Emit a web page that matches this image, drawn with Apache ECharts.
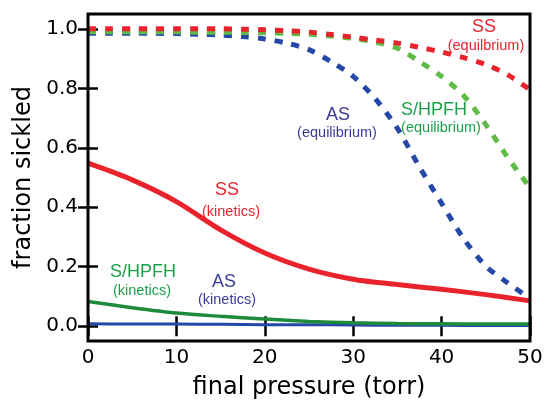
<!DOCTYPE html>
<html>
<head>
<meta charset="utf-8">
<script src="https://cdn.jsdelivr.net/npm/echarts@6/dist/echarts.min.js"></script>
<style>
  html, body { margin: 0; padding: 0; background: #fff; }
  #chart { width: 544px; height: 403px; }
</style>
</head>
<body>
<div id="chart"></div>
<script>
var myChart = echarts.init(document.getElementById('chart'));

// x values (torr)
var pressureEq = [0, 2.5, 5, 7.5, 10, 12.5, 15, 17.5, 20, 22.5, 25, 27.5, 30, 32.5, 35, 37.5, 40, 42.5, 45, 47.5, 50];
var pressureKin = [0, 5, 10, 15, 20, 25, 30, 35, 40, 45, 50];

// equilibrium curves (dashed)
var ssEq = [1.0, 1.0, 1.0, 1.0, 1.0, 1.0, 1.0, 0.999, 0.997, 0.994, 0.989, 0.981, 0.972, 0.962, 0.952, 0.938, 0.922, 0.903, 0.880, 0.845, 0.795];
var hpfhEq = [0.990, 0.990, 0.990, 0.990, 0.990, 0.989, 0.989, 0.988, 0.987, 0.985, 0.982, 0.976, 0.968, 0.955, 0.935, 0.890, 0.840, 0.775, 0.678, 0.567, 0.465];
var asEq = [0.985, 0.985, 0.985, 0.985, 0.984, 0.982, 0.979, 0.974, 0.966, 0.952, 0.930, 0.890, 0.840, 0.765, 0.665, 0.535, 0.413, 0.294, 0.202, 0.145, 0.093];

// kinetics curves (solid)
var ssKin = [0.548, 0.492, 0.419, 0.324, 0.246, 0.192, 0.158, 0.140, 0.124, 0.106, 0.085];
var hpfhKin = [0.083, 0.062, 0.044, 0.033, 0.024, 0.016, 0.011, 0.009, 0.008, 0.007, 0.007];
var asKin = [0.008, 0.007, 0.007, 0.006, 0.005, 0.005, 0.004, 0.003, 0.003, 0.002, 0.002];

var yTicks = [0, 0.2, 0.4, 0.6, 0.8, 1.0];

var RED = '#e8232b', GREEN_D = '#5dbb46', GREEN = '#1d8a3c', BLUE = '#2448a8';
var TXT_BLUE = '#3a3a9a', TXT_GREEN = '#1ea04a';

function pairs(xs, ys) {
    return xs.map(function (x, i) { return [x, ys[i]]; });
}

function line(name, xs, ys, color, width, dashed) {
    return {
        name: name,
        type: 'line',
        data: pairs(xs, ys),
        smooth: 0.3,
        symbol: 'none',
        silent: true,
        lineStyle: {
            color: color,
            width: width,
            type: dashed ? [8, 9] : 'solid',
            cap: 'butt'
        }
    };
}

// annotation text
var notes = [
    ['SS', 484, 27, RED, 18],
    ['(equilbrium)', 486, 46, RED, 14.5],
    ['AS', 338, 115, TXT_BLUE, 18],
    ['(equilibrium)', 337, 133, TXT_BLUE, 14.5],
    ['S/HPFH', 434, 110, TXT_GREEN, 18],
    ['(equilibrium)', 441, 128, TXT_GREEN, 14.5],
    ['SS', 227, 190, RED, 18],
    ['(kinetics)', 231, 212, RED, 14.5],
    ['S/HPFH', 143, 272, TXT_GREEN, 18],
    ['(kinetics)', 142, 291, TXT_GREEN, 14.5],
    ['AS', 224, 282, TXT_BLUE, 18],
    ['(kinetics)', 227, 300, TXT_BLUE, 14.5]
];

var tickStyle = { show: true, inside: true, length: 10, lineStyle: { color: '#000', width: 2.5 } };

option = {
    backgroundColor: '#fff',
    animation: false,
    grid: {
        left: 88,
        right: 14,
        top: 14,
        bottom: 62,
        outerBoundsMode: 'none',
        containLabel: false,
        show: true,
        borderColor: '#000',
        borderWidth: 3,
        z: 10
    },
    xAxis: [
        {
            type: 'value',
            min: 0,
            max: 50,
            interval: 10,
            name: 'final pressure (torr)',
            nameLocation: 'middle',
            nameGap: 35,
            nameTextStyle: { fontFamily: 'DejaVu Sans', fontSize: 24, color: '#000' },
            axisLine: { show: false },
            axisTick: tickStyle,
            splitLine: { show: false },
            axisLabel: { fontFamily: 'DejaVu Sans', fontSize: 20, color: '#000', margin: 7 }
        },
        {
            type: 'value',
            position: 'top',
            min: 0,
            max: 50,
            interval: 10,
            axisLine: { show: false },
            axisTick: tickStyle,
            splitLine: { show: false },
            axisLabel: { show: false }
        }
    ],
    yAxis: [
        {
            type: 'value',
            min: -0.05,
            max: 1.05,
            name: 'fraction sickled',
            nameLocation: 'middle',
            nameGap: 52,
            nameTextStyle: { fontFamily: 'DejaVu Sans', fontSize: 24, color: '#000' },
            axisLine: { show: false },
            axisTick: Object.assign({ customValues: yTicks }, tickStyle),
            splitLine: { show: false },
            axisLabel: {
                customValues: yTicks,
                fontFamily: 'DejaVu Sans',
                fontSize: 20,
                color: '#000',
                margin: 10,
                formatter: function (v) { return v.toFixed(1); }
            }
        },
        {
            type: 'value',
            position: 'right',
            min: -0.05,
            max: 1.05,
            axisLine: { show: false },
            axisTick: Object.assign({ customValues: yTicks }, tickStyle),
            splitLine: { show: false },
            axisLabel: { show: false }
        }
    ],
    series: [
        line('AS eq', pressureEq, asEq, BLUE, 5, true),
        line('S/HPFH eq', pressureEq, hpfhEq, GREEN_D, 5, true),
        line('SS eq', pressureEq, ssEq, RED, 5, true),
        line('AS kin', pressureKin, asKin, BLUE, 3, false),
        line('S/HPFH kin', pressureKin, hpfhKin, GREEN, 3.5, false),
        line('SS kin', pressureKin, ssKin, RED, 5, false)
    ],
    graphic: notes.map(function (n) {
        return {
            type: 'text',
            x: n[1],
            y: n[2],
            style: {
                text: n[0],
                fill: n[3],
                font: n[4] + 'px "Liberation Sans"',
                textAlign: 'center',
                textVerticalAlign: 'middle'
            }
        };
    })
};

myChart.setOption(option);
</script>
</body>
</html>
